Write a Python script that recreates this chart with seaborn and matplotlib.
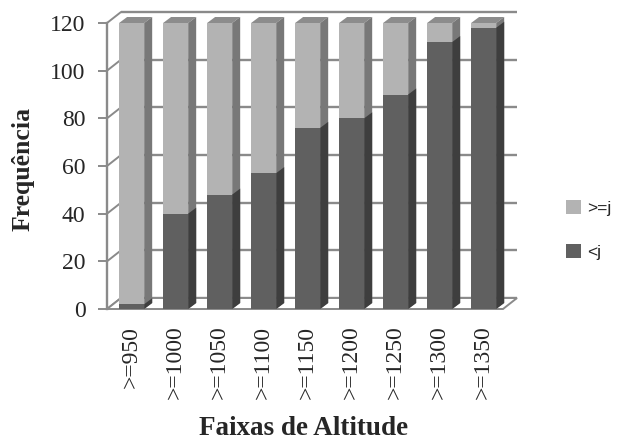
import numpy as np
import matplotlib
matplotlib.use("Agg")
import matplotlib.pyplot as plt
import seaborn as sns
from matplotlib.patches import Polygon, Patch

# Altitude classes and frequencies per class
faixas = [">=950", ">=1000", ">=1050", ">=1100", ">=1150",
          ">=1200", ">=1250", ">=1300", ">=1350"]
abaixo_j = [2, 40, 48, 57, 76, 80, 90, 112, 118]   # "<j"
acima_j = [118, 80, 72, 63, 44, 40, 30, 8, 2]      # ">=j"
y_ticks = [0, 20, 40, 60, 80, 100, 120]

LIGHT, LIGHT_SIDE, LIGHT_TOP = "#b3b3b3", "#787878", "#8c8c8c"
DARK, DARK_SIDE = "#606060", "#3e3e3e"
GRID = "#8a8a8a"

sns.set_style("white")
plt.rcParams["font.family"] = ["Liberation Serif", "DejaVu Serif"]

W, H = 617, 443
fig = plt.figure(figsize=(W / 100, H / 100), dpi=100)
ax = fig.add_axes([107 / W, 1 - 309 / H, 396 / W, 286 / H])

totais = [a + b for a, b in zip(abaixo_j, acima_j)]
sns.barplot(x=faixas, y=totais, color=LIGHT, saturation=1, width=0.57,
            edgecolor="none", linewidth=0, ax=ax, zorder=2)
light_bars = list(ax.patches)
sns.barplot(x=faixas, y=abaixo_j, color=DARK, saturation=1, width=0.57,
            edgecolor="none", linewidth=0, ax=ax, zorder=2)
dark_bars = [p for p in ax.patches if p not in light_bars]

ax.set_xlim(-0.56, len(faixas) - 0.56)
ax.set_ylim(0, 120)
ax.set_yticks(y_ticks)


def px_to_data(dx, dy):
    p0 = ax.transData.transform((0, 0))
    q = ax.transData.inverted().transform(p0 + np.array([dx, dy]))
    return q[0], q[1]


# depth of the bars and of the back wall, in data units
bdx, bdy = px_to_data(8, 6)
wdx, wdy = px_to_data(14, 11)
x_lo, x_hi = ax.get_xlim()

# back wall gridlines
for yv in y_ticks:
    ax.plot([x_lo + wdx, x_hi + wdx], [yv + wdy, yv + wdy], color=GRID,
            lw=1.7, zorder=0.5, clip_on=False, solid_capstyle="butt")
    # left wall joins
    ax.plot([x_lo, x_lo + wdx], [yv, yv + wdy], color=GRID, lw=1.4,
            zorder=0.5, clip_on=False)

# floor
floor = Polygon([(x_lo, 0), (x_hi, 0), (x_hi + wdx, wdy), (x_lo + wdx, wdy)],
                closed=True, facecolor="white", edgecolor=GRID, lw=1.4,
                zorder=0.6, clip_on=False)
ax.add_patch(floor)


def side_face(p, color):
    x1 = p.get_x() + p.get_width()
    y0 = p.get_y()
    y1 = y0 + p.get_height()
    return Polygon([(x1, y0), (x1, y1), (x1 + bdx, y1 + bdy), (x1 + bdx, y0 + bdy)],
                   closed=True, facecolor=color, edgecolor="none",
                   zorder=2, clip_on=False)


def top_face(p, color):
    x0 = p.get_x()
    x1 = x0 + p.get_width()
    y1 = p.get_y() + p.get_height()
    return Polygon([(x0, y1), (x1, y1), (x1 + bdx, y1 + bdy), (x0 + bdx, y1 + bdy)],
                   closed=True, facecolor=color, edgecolor="none",
                   zorder=2, clip_on=False)


for p in light_bars:
    ax.add_patch(top_face(p, LIGHT_TOP))
    ax.add_patch(side_face(p, LIGHT_SIDE))
for p in dark_bars:
    ax.add_patch(side_face(p, DARK_SIDE))

for s in ["top", "right", "bottom"]:
    ax.spines[s].set_visible(False)
ax.spines["left"].set_color(GRID)
ax.spines["left"].set_linewidth(1.7)
ax.spines["left"].set_zorder(0.7)

ax.tick_params(axis="y", direction="out", length=6.5, width=1.4, color=GRID,
               pad=9, labelsize=17, left=True)
ax.tick_params(axis="x", length=0, pad=12, labelsize=17, labelrotation=90)
for t in ax.get_xticklabels():
    t.set_rotation(90)

ax.set_xlabel("")
ax.set_ylabel("")
fig.text(23 / W, 1 - 169 / H, "Frequência", rotation=90, ha="center",
         va="center", fontsize=18.5, fontweight="bold")
fig.text(304 / W, 1 - 435 / H, "Faixas de Altitude", ha="center",
         va="baseline", fontsize=19.5, fontweight="bold")

handles = [Patch(facecolor=LIGHT, edgecolor="none", label=">=j"),
           Patch(facecolor=DARK, edgecolor="none", label="<j")]
fig.legend(handles=handles, loc="center left",
           bbox_to_anchor=(566 / W, 1 - 230 / H), frameon=False,
           prop={"family": "Liberation Sans", "size": 12.5},
           handlelength=0.86, handleheight=0.86, handletextpad=0.35,
           labelspacing=1.65, borderpad=0, borderaxespad=0)

fig.savefig("out.png", dpi=100)
